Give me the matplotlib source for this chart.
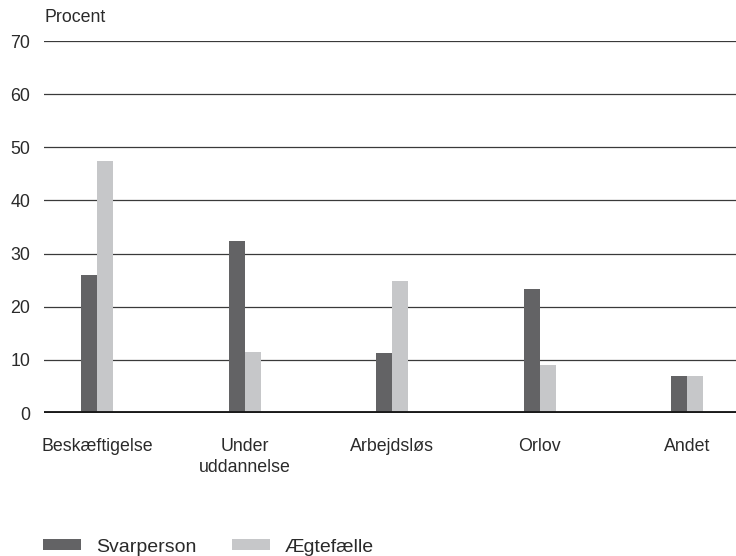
import matplotlib
matplotlib.use("Agg")
import matplotlib.pyplot as plt
import numpy as np

categories = ["Beskæftigelse", "Under\nuddannelse", "Arbejdsløs", "Orlov", "Andet"]
series_names = ["Svarperson", "Ægtefælle"]
svarperson = [26.0, 32.4, 11.3, 23.3, 7.0]
aegtefaelle = [47.4, 11.5, 24.8, 9.0, 7.0]
yticks = [0, 10, 20, 30, 40, 50, 60, 70]

plt.rcParams['font.family'] = ['Liberation Sans', 'DejaVu Sans']
dark = "#636365"
light = "#c6c7c9"
txt = "#2a2a2a"
fs = 12.8

fig = plt.figure(figsize=(7.36, 5.56), dpi=100)
ax = fig.add_axes([44/736, 143/556, 692/736, 372/556])

x = np.arange(len(categories))
w = 0.108
ax.bar(x - w/2, svarperson, w, color=dark, label=series_names[0], zorder=3)
ax.bar(x + w/2, aegtefaelle, w, color=light, label=series_names[1], zorder=3)

ax.set_xlim(-0.36, 4.33)
ax.set_ylim(0, 70)
ax.set_yticks(yticks)
for v in yticks[1:]:
    ax.axhline(v, color="#3a3a3a", lw=0.9, zorder=1)
ax.axhline(0, color="#1a1a1a", lw=2.8, zorder=4)

for s in ax.spines.values():
    s.set_visible(False)
ax.tick_params(axis='y', length=0, pad=10, labelsize=fs, labelcolor=txt)
ax.tick_params(axis='x', length=0, pad=18, labelsize=fs, labelcolor=txt)
ax.set_xticks(x)
ax.set_xticklabels(categories, linespacing=1.3)

fig.text(44/736, 1 - 18/556, "Procent", fontsize=fs, color=txt, va='center', ha='left')

fig.legend(loc='center left', bbox_to_anchor=(26/736, 1 - 547/556), ncol=2, frameon=False,
           fontsize=14, handlelength=1.95, handleheight=0.5, handletextpad=0.75,
           columnspacing=1.85, labelcolor=txt)

fig.savefig("out.png", dpi=100)
